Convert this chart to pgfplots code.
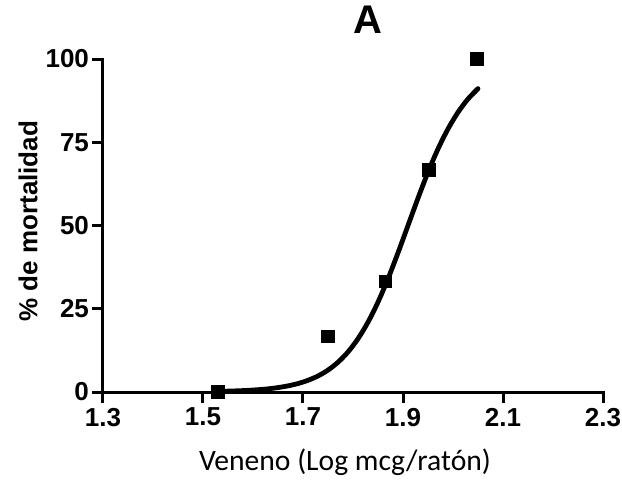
\documentclass[border=0pt]{standalone}
\usepackage{pgfplots}
\pgfplotsset{compat=1.18}
\usepackage{fontspec}
\setmainfont{Liberation Sans}
\newfontfamily\calibri{Carlito}
\begin{document}
\begin{tikzpicture}
\begin{axis}[
  scale only axis, width=250pt, height=166.5pt,
  xmin=1.3, xmax=2.3, ymin=0, ymax=100,
  axis x line*=bottom, axis y line*=left,
  axis line style={line width=1.5pt, line cap=rect},
  xtick={1.3,1.5,1.7,1.9,2.1,2.3},
  xticklabels={1.3,1.5,1.7,1.9,2.1,2.3},
  ytick={0,25,50,75,100},
  yticklabels={0,25,50,75,100},
  tick align=outside, major tick length=5.5pt,
  tick style={line width=1.5pt, black},
  ticklabel style={font=\bfseries\fontsize{13}{13}\selectfont},
  xticklabel style={yshift=1pt},
  yticklabel style={xshift=2pt},
  title={\bfseries\fontsize{20}{20}\selectfont A},
  title style={at={(axis description cs:0.53,1.082)}, anchor=center},
  xlabel={\calibri\fontsize{14.8}{14.8}\selectfont Veneno (Log mcg/ratón)},
  xlabel style={at={(axis description cs:0.484,-0.21)}, anchor=center},
  ylabel={\bfseries\fontsize{13}{13}\selectfont \% de mortalidad},
  ylabel style={at={(axis description cs:-0.15,0.513)}, anchor=center},
  clip=false,
]
\addplot[black, line width=2.4pt, smooth, no marks, line cap=round] coordinates {
(1.53,0.18) (1.55,0.26) (1.57,0.36) (1.59,0.49) (1.61,0.69) (1.63,0.95)
(1.65,1.33) (1.67,1.84) (1.69,2.54) (1.71,3.51) (1.73,4.81) (1.75,6.58)
(1.77,8.94) (1.79,12.03) (1.81,16.0) (1.83,20.97) (1.85,27.0) (1.87,34.0)
(1.89,41.8) (1.91,50.0) (1.93,58.2) (1.95,66.0) (1.97,73.0) (1.99,79.0)
(2.01,84.0) (2.03,88.0) (2.05,91.1)
};
\addplot[only marks, mark=square*, mark size=3.1pt, black] coordinates {
(1.53,0) (1.75,16.7) (1.865,33.3) (1.952,66.7) (2.048,100)
};
\end{axis}
\pgfresetboundingbox
\path (-51.5pt,-45.5pt) rectangle (259.5pt,196pt);
\end{tikzpicture}
\end{document}
